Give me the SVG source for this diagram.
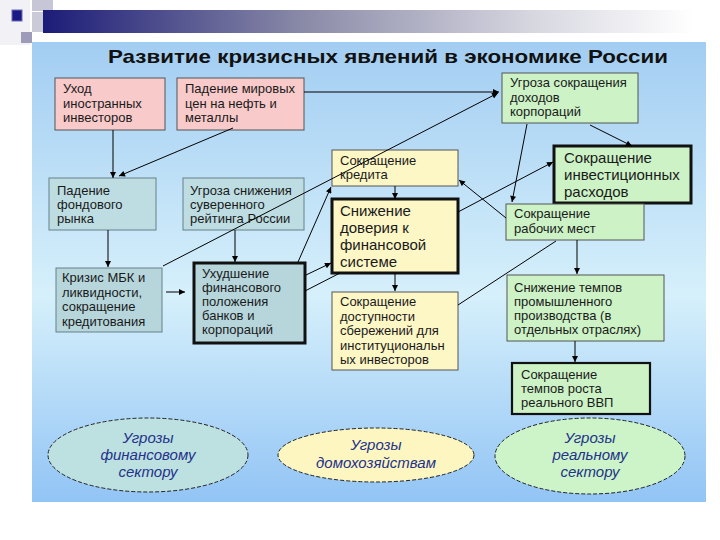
<svg xmlns="http://www.w3.org/2000/svg" width="720" height="540" viewBox="0 0 720 540">
<defs>
<linearGradient id="bar" x1="0" y1="0" x2="1" y2="0">
<stop offset="0" stop-color="#1c1c78"/>
<stop offset="0.4" stop-color="#8a8aa8"/>
<stop offset="0.75" stop-color="#d6d6e0"/>
<stop offset="1" stop-color="#ffffff"/>
</linearGradient>
<linearGradient id="panel" x1="0" y1="0" x2="0" y2="1">
<stop offset="0" stop-color="#a2cdf2"/>
<stop offset="0.55" stop-color="#d6f0fb"/>
<stop offset="1" stop-color="#92c4f5"/>
</linearGradient>
<marker id="ah" viewBox="0 0 10 10" refX="10" refY="5" markerWidth="7" markerHeight="6" markerUnits="userSpaceOnUse" orient="auto">
<path d="M0,0 L10,5 L0,10 z" fill="#000"/>
</marker>
<style>
.t{font-family:"Liberation Sans",Arial,sans-serif;font-size:13px;fill:#1a1a1a}
.tb{font-family:"Liberation Sans",Arial,sans-serif;font-size:15px;fill:#1a1a1a}
.te{font-family:"Liberation Sans",Arial,sans-serif;font-size:15px;font-style:italic;fill:#23328a;text-anchor:middle}
.pink{fill:#f8caca;stroke:#555;stroke-width:1}
.green{fill:#ccf2c6;stroke:#555;stroke-width:1}
.yel{fill:#fdf7c6;stroke:#555;stroke-width:1}
.teal{fill:#bddde2;stroke:#66808a;stroke-width:1}
.teal2{fill:#b6d6dc;stroke:#66808a;stroke-width:1}
.thick{stroke:#111;stroke-width:3}
.mid{stroke:#111;stroke-width:2.2}
.ell{stroke:#222;stroke-width:1;stroke-dasharray:4,2}
.c{fill:none;stroke:#000;stroke-width:1}
.a{marker-end:url(#ah)}
</style>
</defs>
<rect x="0" y="0" width="720" height="540" fill="#ffffff"/>
<!-- top decoration -->
<rect x="0" y="0" width="30" height="45" fill="#f2f2f6"/>
<rect x="32" y="0" width="21" height="11" fill="#c6c6d6"/>
<rect x="32" y="12" width="11" height="20" fill="#cacad8"/>
<rect x="43" y="10" width="650" height="23" fill="url(#bar)"/>
<rect x="12" y="10" width="10" height="11" fill="#1a1a86" stroke="#6a6ab0" stroke-width="1"/>
<rect x="21" y="32" width="11" height="11" fill="#9c9cba"/>
<!-- panel -->
<rect x="32" y="42" width="674" height="460" fill="url(#panel)"/>
<text x="388" y="63" font-family="Liberation Sans,Arial,sans-serif" font-size="19" font-weight="bold" fill="#111" text-anchor="middle" textLength="560" lengthAdjust="spacingAndGlyphs">Развитие кризисных явлений в экономике России</text>

<g id="n1"><rect class="pink" x="55" y="78" width="110" height="52"/>
<text class="t" x="63"><tspan x="63" y="93">Уход</tspan><tspan x="63" y="107.5">иностранных</tspan><tspan x="63" y="122">инвесторов</tspan></text></g>
<g id="n2"><rect class="pink" x="177" y="78" width="127" height="52"/>
<text class="t"><tspan x="185" y="93">Падение мировых</tspan><tspan x="185" y="107.5">цен на нефть и</tspan><tspan x="185" y="122">металлы</tspan></text></g>
<g id="n3"><rect class="green" x="502" y="73" width="136" height="50"/>
<text class="t"><tspan x="510" y="87">Угроза сокращения</tspan><tspan x="510" y="101.5">доходов</tspan><tspan x="510" y="116">корпораций</tspan></text></g>
<g id="n4"><rect class="yel" x="332" y="150" width="126" height="36"/>
<text class="t"><tspan x="340" y="165">Сокращение</tspan><tspan x="340" y="179">кредита</tspan></text></g>
<g id="n5"><rect class="yel thick" x="332" y="199" width="126" height="74"/>
<text class="tb"><tspan x="340" y="216">Снижение</tspan><tspan x="340" y="233">доверия к</tspan><tspan x="340" y="250">финансовой</tspan><tspan x="340" y="267">системе</tspan></text></g>
<g id="n6"><rect class="green thick" x="554" y="146" width="137" height="57"/>
<text class="tb"><tspan x="564" y="163">Сокращение</tspan><tspan x="564" y="180">инвестиционных</tspan><tspan x="564" y="197">расходов</tspan></text></g>
<g id="n7"><rect class="green" x="506" y="204" width="138" height="36"/>
<text class="t"><tspan x="514" y="218">Сокращение</tspan><tspan x="514" y="232.5">рабочих мест</tspan></text></g>
<g id="n8"><rect class="teal" x="49" y="178" width="107" height="52"/>
<text class="t"><tspan x="57" y="195">Падение</tspan><tspan x="57" y="209">фондового</tspan><tspan x="57" y="223">рынка</tspan></text></g>
<g id="n9"><rect class="teal" x="183" y="178" width="121" height="52"/>
<text class="t"><tspan x="190" y="195">Угроза снижения</tspan><tspan x="190" y="209">суверенного</tspan><tspan x="190" y="223">рейтинга России</tspan></text></g>
<g id="n10"><rect class="teal2" x="56" y="268" width="106" height="64"/>
<text class="t"><tspan x="62" y="282">Кризис МБК и</tspan><tspan x="62" y="296.5">ликвидности,</tspan><tspan x="62" y="311">сокращение</tspan><tspan x="62" y="325.5">кредитования</tspan></text></g>
<g id="n11"><rect class="teal2 thick" x="194" y="263" width="111" height="80"/>
<text class="t"><tspan x="202" y="278">Ухудшение</tspan><tspan x="202" y="292">финансового</tspan><tspan x="202" y="306">положения</tspan><tspan x="202" y="320">банков и</tspan><tspan x="202" y="334">корпораций</tspan></text></g>
<g id="n12"><rect class="yel" x="332" y="292" width="126" height="78"/>
<text class="t"><tspan x="340" y="306">Сокращение</tspan><tspan x="340" y="320.5">доступности</tspan><tspan x="340" y="335">сбережений для</tspan><tspan x="340" y="349.5">институциональн</tspan><tspan x="340" y="364">ых инвесторов</tspan></text></g>
<g id="n13"><rect class="green" x="507" y="275" width="157" height="66"/>
<text class="t"><tspan x="514" y="292">Снижение темпов</tspan><tspan x="514" y="306">промышленного</tspan><tspan x="514" y="320">производства (в</tspan><tspan x="514" y="334">отдельных отраслях)</tspan></text></g>
<g id="n14"><rect class="green mid" x="512" y="363" width="138" height="51"/>
<text class="t"><tspan x="521" y="379">Сокращение</tspan><tspan x="521" y="393">темпов роста</tspan><tspan x="521" y="407">реального ВВП</tspan></text></g>

<g id="e1"><ellipse class="ell" cx="148" cy="455" rx="100" ry="37" fill="#bde0e0"/>
<text class="te"><tspan x="148" y="443">Угрозы</tspan><tspan x="148" y="460">финансовому</tspan><tspan x="148" y="477">сектору</tspan></text></g>
<g id="e2"><ellipse class="ell" cx="376" cy="455" rx="98" ry="27" fill="#fdf6c0"/>
<text class="te"><tspan x="376" y="450">Угрозы</tspan><tspan x="376" y="468">домохозяйствам</tspan></text></g>
<g id="e3"><ellipse class="ell" cx="590" cy="456" rx="95" ry="38" fill="#ccf4c8"/>
<text class="te"><tspan x="590" y="443">Угрозы</tspan><tspan x="590" y="460">реальному</tspan><tspan x="590" y="477">сектору</tspan></text></g>

<g id="connectors">
<path class="c a" d="M113,130 L113,178"/>
<path class="c a" d="M233,128 L119,176"/>
<path class="c a" d="M304,92 L499,92"/>
<path class="c a" d="M163,266 L498,93"/>
<path class="c a" d="M395,186 L395,199"/>
<path class="c a" d="M395,273 L395,291"/>
<path class="c a" d="M506,218 L459,180"/>
<path class="c a" d="M527,124 L512,202"/>
<path class="c a" d="M590,125 L632,146"/>
<path class="c" d="M305,291 L340,273"/>
<path class="c a" d="M458,212 L553,162"/>
<path class="c" d="M458,305 L556,241"/>
<path class="c a" d="M298,262 L331,187"/>
<path class="c a" d="M306,275 L331,263"/>
<path class="c a" d="M108,230 L108,267"/>
<path class="c a" d="M235,230 L235,262"/>
<path class="c a" d="M166,292 L185,292"/>
<path class="c a" d="M577,240 L577,274"/>
<path class="c a" d="M575,341 L575,362"/>
</g>
</svg>
